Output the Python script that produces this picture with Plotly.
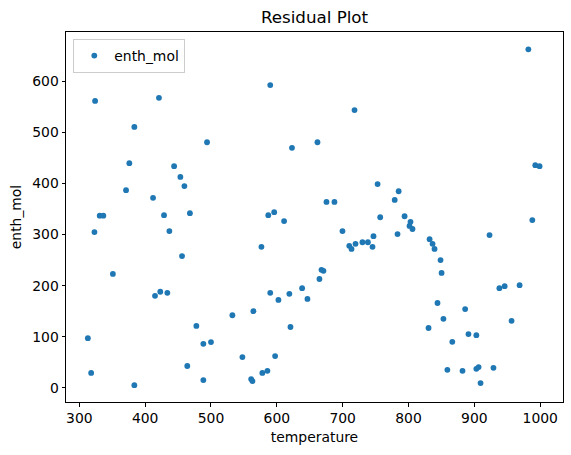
import plotly.graph_objects as go

temperature = [313, 318, 323, 324, 331, 336.5, 351, 371, 376, 383.6,
               383.6, 412, 415, 421, 423, 428.7, 433.7, 436.8, 444, 453.5,
               456, 459.6, 464, 468, 477.8, 488.4, 488.4, 494, 500, 532.5,
               547.7, 561, 563, 564.4, 576.6, 578, 585.7, 587, 590, 590,
               596, 597.4, 602.4, 611, 619, 620.7, 623, 638.4, 646.5, 661.7,
               664.7, 667.8, 670.8, 675.4, 687.5, 699.7, 710, 713.4, 718, 719.5,
               730, 738.3, 745.3, 746.8, 753, 757, 779, 783.3, 785, 794,
               801.5, 803, 806, 830.4, 832, 836.5, 839.5, 844, 848.6, 850.2,
               853, 859, 866.5, 882, 886, 891, 903, 903, 906.4, 909.4,
               923, 929, 938, 946, 956.5, 968.7, 982, 988, 992.5, 999]
enth_mol = [97, 29, 305, 562, 337, 337, 223, 387, 440, 511,
            5, 372, 180, 568, 188, 338, 186, 307, 434, 413,
            258, 395, 42.5, 342, 121, 86, 15, 481, 89.5, 142,
            60, 17, 13, 150, 276, 29, 33, 338, 593, 186,
            344, 62, 172, 326.5, 184, 119, 470, 195, 174, 481,
            213, 231, 229, 364, 364, 307, 278, 272, 544, 282,
            285, 285, 276, 297, 399, 334, 368, 301, 385, 336,
            317, 325, 311, 117, 291, 282, 272, 166, 250, 225,
            135, 35, 90, 33, 154, 105, 103, 37, 40.5, 9,
            299, 39, 195, 199, 131, 201, 663, 328.5, 436, 434]
x_ticks = [300, 400, 500, 600, 700, 800, 900, 1000]
y_ticks = [0, 100, 200, 300, 400, 500, 600]

FONT = "DejaVu Sans"

fig = go.Figure()
fig.add_trace(go.Scatter(
    x=temperature, y=enth_mol, mode="markers", name="enth_mol",
    marker=dict(color="#1f77b4", size=5.8, line=dict(width=0)),
    showlegend=True,
))

axis_common = dict(
    showgrid=False, zeroline=False, showline=True, linecolor="black",
    linewidth=1, mirror=True, ticks="outside", ticklen=3.5, tickwidth=1,
    tickcolor="black", tickfont=dict(family=FONT, size=13.9, color="black"),
)

fig.update_layout(
    width=571, height=455,
    margin=dict(l=66, r=8.3, t=32.3, b=52.7),
    paper_bgcolor="white", plot_bgcolor="white",
    font=dict(family=FONT, color="black"),
    title=dict(text="Residual Plot", x=0.5, xref="paper", xanchor="center",
               y=1 - 17 / 455, yanchor="middle",
               font=dict(family=FONT, size=16.7, color="black")),
    xaxis=dict(range=[279.8, 1034.6], tickvals=x_ticks,
               title=dict(text="temperature", standoff=7,
                          font=dict(family=FONT, size=13.9, color="black")),
               **axis_common),
    yaxis=dict(range=[-28, 697], tickvals=y_ticks,
               title=dict(text="enth_mol", standoff=7,
                          font=dict(family=FONT, size=13.9, color="black")),
               **axis_common),
    legend=dict(x=0.0147, y=0.981, xanchor="left", yanchor="top",
                bgcolor="rgba(255,255,255,0.8)", bordercolor="#cccccc",
                borderwidth=1, itemwidth=30,
                font=dict(family=FONT, size=13.9, color="black")),
)

fig.write_html("out.html")
